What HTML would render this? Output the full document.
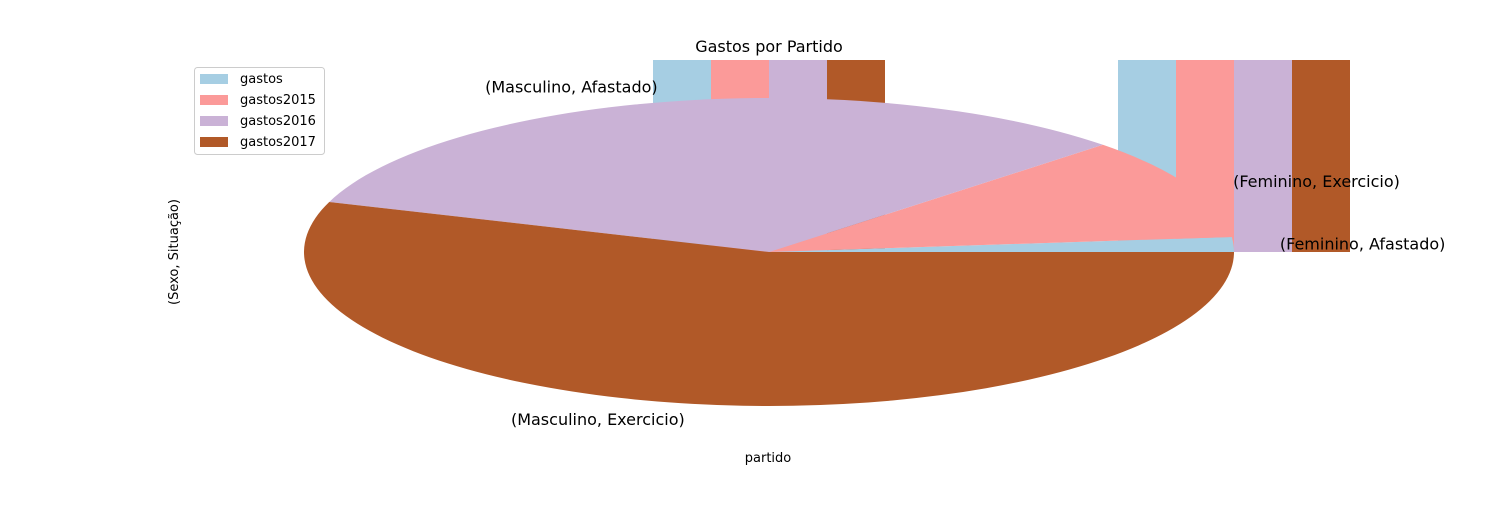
<!DOCTYPE html>
<html><head><meta charset="utf-8"><style>
body{margin:0;background:#fff}
svg text{font-family:"DejaVu Sans","Liberation Sans",sans-serif}
</style></head><body>
<svg id="c" width="1500" height="500" viewBox="0 0 1500 500">
<defs><clipPath id="ax"><rect x="0" y="60" width="1500" height="440"/></clipPath></defs>
<g id="bars" clip-path="url(#ax)"></g>
<g id="pie"></g>
<g id="labels"></g>
<text x="769" y="52" font-size="16" text-anchor="middle">Gastos por Partido</text>
<text x="768" y="462" font-size="13" text-anchor="middle">partido</text>
<text transform="translate(178,252) rotate(-90)" font-size="13" text-anchor="middle">(Sexo, Situação)</text>
<g>
<rect x="194.5" y="67.5" width="130" height="87" rx="3" fill="#fff" stroke="#ccc"/>
<g id="leg"></g>
</g>
</svg>
<script>
const series=['gastos','gastos2015','gastos2016','gastos2017'];
const colors=['#a6cee3','#fb9a99','#cab2d6','#b15928'];
const groups=['g1','g2'];
const barVals=[[1.5,1.5,1.5,1.5],[1.5,1.5,1.5,1.5]];
const sliceLabels=['(Feminino, Afastado)','(Feminino, Exercicio)','(Masculino, Afastado)','(Masculino, Exercicio)'];
const sliceVals=[1.56,10.7,32.5,55.3];
const NS='http://www.w3.org/2000/svg';
function mk(t,a,p){const e=document.createElementNS(NS,t);for(const k in a)e.setAttribute(k,a[k]);p.appendChild(e);return e;}
const y0=252,yTop=60;
function ys(v){return y0-v*(y0-yTop);}
const groupStart=[653,1118],bw=58;
const bg=document.getElementById('bars');
groups.forEach((g,gi)=>{barVals[gi].forEach((v,si)=>{
 const r=mk('rect',{x:groupStart[gi]+si*bw,y:ys(v),width:bw,height:y0-ys(v),fill:colors[si]},bg);
 
 
});});
const cx=769,cy=252,rx=465,ry=154;
const pg=document.getElementById('pie'),lg=document.getElementById('labels');
const tot=sliceVals.reduce((a,b)=>a+b,0);
let a0=0;
const lpos=[['start',-17],['start',-17],['end',0],['end',0]];
sliceVals.forEach((v,i)=>{
 const a1=a0+v/tot*2*Math.PI;
 const x0=cx+rx*Math.cos(a0),y_0=cy-ry*Math.sin(a0),x1=cx+rx*Math.cos(a1),y1=cy-ry*Math.sin(a1);
 const large=(a1-a0)>Math.PI?1:0;
 const p=mk('path',{d:`M${cx},${cy}L${x0},${y_0}A${rx},${ry} 0 ${large} 0 ${x1},${y1}Z`,fill:colors[i]},pg);
 
 
 const am=(a0+a1)/2;
 const lx=cx+1.1*rx*Math.cos(am),ly=cy-1.1*ry*Math.sin(am);
 const t=mk('text',{x:lx,y:ly+6,'font-size':16,'text-anchor':Math.cos(am)>=0?'start':'end'},lg);
 t.textContent=sliceLabels[i];
 
 
 a0=a1;
});
const leg=document.getElementById('leg');
series.forEach((s,i)=>{
 const r=mk('rect',{x:200,y:74+i*21,width:28,height:10,fill:colors[i]},leg);
 
 
 const t=mk('text',{x:240,y:83+i*21,'font-size':13},leg);
 t.textContent=s;
 
 
});
</script>
</body></html>
